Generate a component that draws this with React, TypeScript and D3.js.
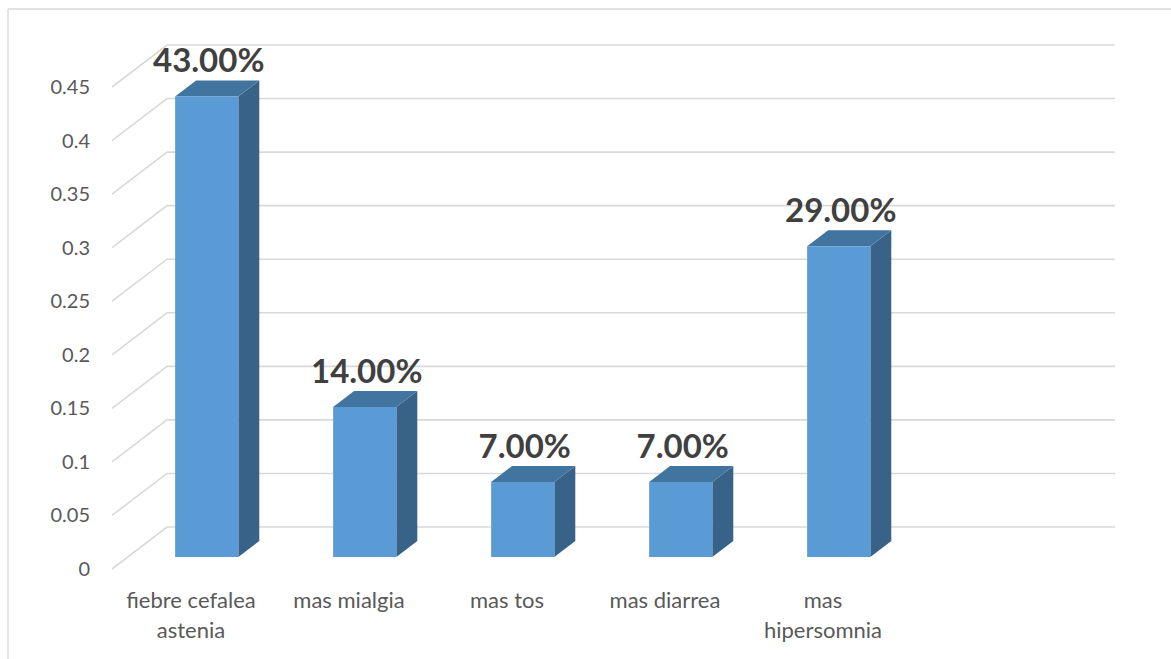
import * as d3 from 'd3'

// values
const categories = ['fiebre cefalea astenia', 'mas mialgia', 'mas tos', 'mas diarrea', 'mas hipersomnia']
const labelLines = [['fiebre cefalea', 'astenia'], ['mas mialgia'], ['mas tos'], ['mas diarrea'], ['mas', 'hipersomnia']]
const values = [0.43, 0.14, 0.07, 0.07, 0.29]
const ticks = [0, 0.05, 0.1, 0.15, 0.2, 0.25, 0.3, 0.35, 0.4, 0.45]

const W = 1171, H = 659
const originX = 112, originY = 569 // front-left of floor
const depthX = 55, depthY = 42 // offset of the back wall
const zFront = 0.286, zBack = 0.667 // bar depth on the floor
const font = 'Lato, "Open Sans", sans-serif'

const x = d3.scaleBand<string>()
  .domain([...categories, '_empty'])
  .range([0, 948])
  .paddingInner(0.6)
  .paddingOuter(0.3)
const y = d3.scaleLinear().domain([0, 0.45]).range([0, 482])

const px = (xx: number, z: number) => originX + xx + z * depthX
const py = (v: number, z: number) => originY - y(v) - z * depthY

const pts = (a: [number, number][]) => a.map(p => p.join(',')).join(' ')

export default function App() {
  const bw = x.bandwidth()
  return (
    <svg width={W} height={H} style={{ position: 'absolute', left: 0, top: 0 }}>
      <rect width={W} height={H} fill="#fff" />
      <line x1={8} y1={9} x2={W} y2={9} stroke="#d9d9d9" strokeWidth={1.3} />
      <line x1={8} y1={9} x2={8} y2={H} stroke="#d9d9d9" strokeWidth={1.3} />

      {/* gridlines: side wall diagonal + back wall */}
      <g fill="none" stroke="#d9d9d9" strokeWidth={1.6}>
        {ticks.map(t => (
          <polyline key={t} points={pts([
            [px(0, 0), py(t, 0)],
            [px(0, 1), py(t, 1)],
            [px(x.range()[1], 1), py(t, 1)],
          ])} />
        ))}
      </g>

      <g fontFamily={font} fontSize={20} fill="#595959" textAnchor="end">
        {ticks.map(t => (
          <text key={t} x={90} y={py(t, 0) + 7}>{String(t)}</text>
        ))}
      </g>

      {categories.map((c, i) => {
        const x0 = x(c)!, x1 = x0 + bw, v = values[i]
        const front: [number, number][] = [
          [px(x0, zFront), py(0, zFront)], [px(x1, zFront), py(0, zFront)],
          [px(x1, zFront), py(v, zFront)], [px(x0, zFront), py(v, zFront)],
        ]
        const side: [number, number][] = [
          [px(x1, zFront), py(0, zFront)], [px(x1, zBack), py(0, zBack)],
          [px(x1, zBack), py(v, zBack)], [px(x1, zFront), py(v, zFront)],
        ]
        const top: [number, number][] = [
          [px(x0, zFront), py(v, zFront)], [px(x1, zFront), py(v, zFront)],
          [px(x1, zBack), py(v, zBack)], [px(x0, zBack), py(v, zBack)],
        ]
        return (
          <g key={c}>
            <polygon points={pts(side)} fill="#386287" />
            <polygon points={pts(top)} fill="#4274a0" />
            <polygon points={pts(front)} fill="#5b9bd5" />
            <text x={px(x0 + bw / 2, zFront) + 2} y={py(v, zBack) - 8}
              fontFamily={font} fontSize={33} fontWeight="bold" fill="#404040" textAnchor="middle">
              {d3.format('.2%')(v)}
            </text>
          </g>
        )
      })}

      <g fontFamily={font} fontSize={22} fill="#595959" textAnchor="middle">
        {categories.map((c, i) => {
          const cx = originX + x(c)! + bw / 2
          return labelLines[i].map((l, j) => (
            <text key={c + j} x={cx} y={608 + j * 30}>{l}</text>
          ))
        })}
      </g>
    </svg>
  )
}
